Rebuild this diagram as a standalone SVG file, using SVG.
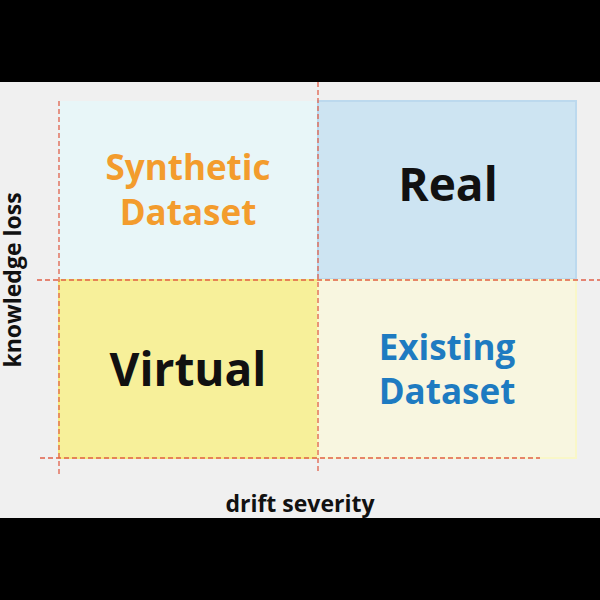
<svg xmlns="http://www.w3.org/2000/svg" width="600" height="600" viewBox="0 0 600 600">
<style>
.d{stroke:#e0604a;stroke-width:1.3;stroke-dasharray:5,3;fill:none}
text{font-family:"Open Sans","Noto Sans",sans-serif;font-weight:bold;text-anchor:middle}
</style>
<rect width="600" height="600" fill="#000"/>
<rect x="0" y="82" width="600" height="436" fill="#f0f0f0"/>
<g id="synthetic"><rect x="59" y="101" width="259" height="179" fill="#e8f6f8"/>
<text fill="#f39c2d" font-size="35" x="188" y="180">Synthetic</text><text fill="#f39c2d" font-size="35" x="188" y="225">Dataset</text></g>
<g id="real"><rect x="318" y="101" width="258" height="178" fill="#cde4f2" stroke="#bcd9ee" stroke-width="2"/>
<text font-size="46" x="448" y="201" fill="#111">Real</text></g>
<g id="virtual"><rect x="59" y="280" width="259" height="178" fill="#f7f09a" stroke="#f5ec80" stroke-width="2"/>
<text font-size="46" x="188" y="386" fill="#111">Virtual</text></g>
<g id="existing"><rect x="318" y="280" width="258" height="178" fill="#f8f6e0" stroke="#f9f7c8" stroke-width="2"/>
<text fill="#1e7bc1" font-size="35" x="447" y="360">Existing</text><text fill="#1e7bc1" font-size="35" x="447" y="404">Dataset</text></g>
<g id="connectors">
<line class="d" x1="318" y1="82" x2="318" y2="474"/>
<line class="d" x1="59" y1="101" x2="59" y2="476"/>
<line class="d" x1="37" y1="280" x2="600" y2="280"/>
<line class="d" x1="40" y1="458" x2="540" y2="458"/>
</g>
<text font-size="23" x="300" y="512" fill="#111">drift severity</text>
<text font-size="23" fill="#111" transform="translate(21,280) rotate(-90)">knowledge loss</text>
</svg>
